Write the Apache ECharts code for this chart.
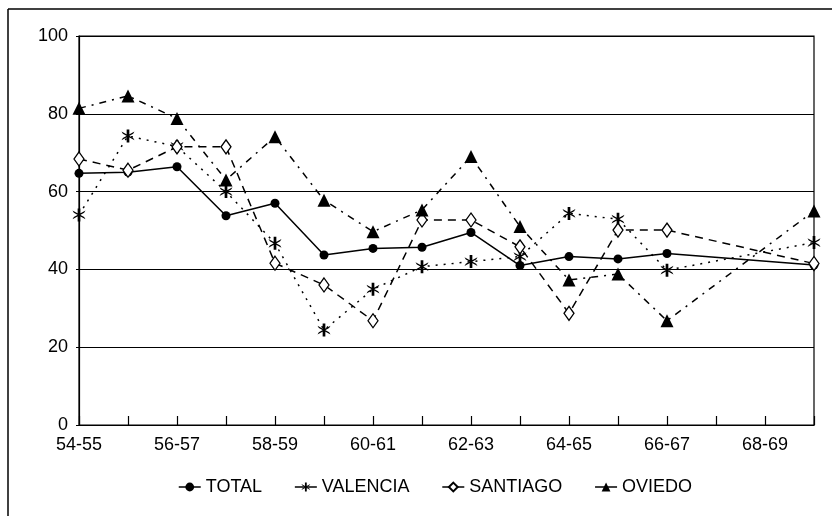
<!DOCTYPE html>
<html>
<head>
<meta charset="utf-8">
<script src="https://cdn.jsdelivr.net/npm/echarts@6/dist/echarts.min.js"></script>
<style>
  html, body { margin: 0; padding: 0; background: #fff; }
  #chart { width: 832px; height: 516px; }
</style>
</head>
<body>
<div id="chart"></div>
<script>
// campaigns 54-55 ... 69-70, only every other one is labelled
var categories = ["54-55", "55-56", "56-57", "57-58", "58-59", "59-60", "60-61", "61-62",
  "62-63", "63-64", "64-65", "65-66", "66-67", "67-68", "68-69", "69-70"];
var yTicks = [0, 20, 40, 60, 80, 100];

// no data for 67-68 and 68-69, the lines just join across
var total    = [64.7, 65.0, 66.4, 53.8, 57.0, 43.7, 45.4, 45.7, 49.5, 41.0, 43.3, 42.7, 44.1, null, null, 41.1];
var valencia = [54.0, 74.3, 71.6, 60.0, 46.7, 24.4, 34.9, 40.7, 42.0, 43.3, 54.4, 52.9, 39.8, null, null, 46.9];
var santiago = [68.4, 65.5, 71.5, 71.5, 41.6, 36.0, 26.8, 52.7, 52.7, 45.8, 28.7, 50.1, 50.1, null, null, 41.5];
var oviedo   = [81.4, 84.6, 78.8, 63.0, 74.1, 57.8, 49.7, 55.3, 69.0, 51.0, 37.3, 38.8, 26.8, null, null, 55.0];

var FONT = "'Liberation Sans', Arial, sans-serif";

// six armed star, three thick bars
var starPath = "path://M8,0 L12,0 L12,20 L8,20 Z " +
  "M19.66,3.27 L17.66,6.73 L0.34,16.73 L2.34,13.27 Z " +
  "M2.34,6.73 L0.34,3.27 L17.66,13.27 L19.66,16.73 Z";

var myChart = echarts.init(document.getElementById("chart"));

function lineSeries(name, data, symbol, size, lineType, fill) {
  return {
    name: name,
    type: "line",
    data: data,
    connectNulls: true,
    symbol: symbol,
    symbolSize: size,
    showAllSymbol: true,
    lineStyle: { color: "#000", width: 1.5, type: lineType },
    itemStyle: { color: fill, borderColor: "#000", borderWidth: fill === "#fff" ? 1.3 : 0 },
    emphasis: { disabled: true },
    z: 3
  };
}

myChart.setOption({
  animation: false,
  backgroundColor: "#fff",
  textStyle: { fontFamily: FONT, color: "#000" },
  grid: {
    left: 79,
    right: 18,
    top: 36,
    bottom: 91,
    show: true,
    borderColor: "#000",
    borderWidth: 1.2
  },
  legend: {
    left: 173,
    top: 473,
    itemGap: 32,
    itemWidth: 22,
    itemHeight: 11,
    textStyle: { fontSize: 18, color: "#000", fontFamily: FONT },
    lineStyle: { type: "solid", width: 1.5 },
    data: ["TOTAL", "VALENCIA", "SANTIAGO", "OVIEDO"]
  },
  xAxis: {
    type: "category",
    data: categories,
    boundaryGap: false,
    axisLine: { lineStyle: { color: "#000", width: 1.2 } },
    axisTick: { inside: true, length: 9, interval: 0, lineStyle: { color: "#000", width: 1.2 } },
    axisLabel: { interval: 1, margin: 11, fontSize: 18, color: "#000", fontFamily: FONT }
  },
  yAxis: {
    type: "value",
    min: yTicks[0],
    max: yTicks[yTicks.length - 1],
    interval: yTicks[1] - yTicks[0],
    axisLine: { show: true, lineStyle: { color: "#000", width: 1.2 } },
    axisTick: { show: true, length: 3, lineStyle: { color: "#000" } },
    splitLine: { show: true, lineStyle: { color: "#000", width: 1.2 } },
    axisLabel: { margin: 11, fontSize: 18, color: "#000", fontFamily: FONT }
  },
  // outer frame of the scanned figure
  graphic: [
    { type: "line", shape: { x1: 8, y1: 9, x2: 832, y2: 9 }, style: { stroke: "#000", lineWidth: 1.5 } },
    { type: "line", shape: { x1: 8, y1: 9, x2: 8, y2: 516 }, style: { stroke: "#000", lineWidth: 1.5 } }
  ],
  series: [
    lineSeries("TOTAL", total, "circle", 9, "solid", "#000"),
    lineSeries("VALENCIA", valencia, starPath, 13, [2, 6], "#000"),
    lineSeries("SANTIAGO", santiago, "diamond", [10, 14], [8, 6], "#fff"),
    lineSeries("OVIEDO", oviedo, "triangle", 13, [7, 6, 2, 6], "#000")
  ]
});
</script>
</body>
</html>
